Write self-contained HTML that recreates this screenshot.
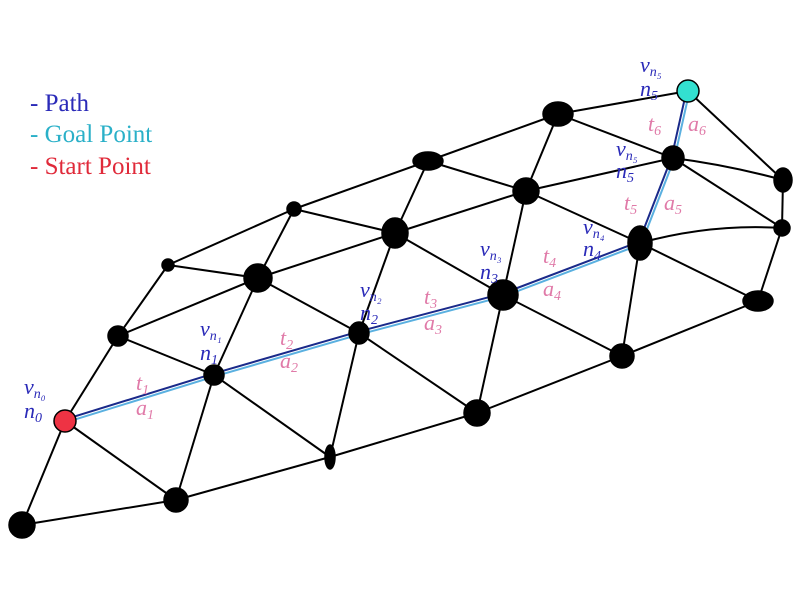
<!DOCTYPE html>
<html><head><meta charset="utf-8"><style>
html,body{margin:0;padding:0;background:#fff;width:800px;height:600px;overflow:hidden}
svg{display:block}
text{font-family:"Liberation Serif",serif}
.lbl{font-style:italic;font-size:22px;fill:#2a2ab8}
.pk{font-style:italic;font-size:22px;fill:#e07aa8}
.sub{font-size:14px}
</style></head><body>
<svg id="chart" width="800" height="600" viewBox="0 0 800 600">
<g>
<text x="30" y="111" font-size="25" fill="#2a2ab8">- Path</text>
<text x="30" y="142" font-size="25" fill="#2ab0c8">- Goal Point</text>
<text x="30" y="174" font-size="25" fill="#e02a3a">- Start Point</text>
</g>
<g id="edges"></g>
<g id="path"></g>
<g id="nodes"></g>
<g>
<text class="lbl" x="24" y="394">v<tspan class="sub" dy="4">n₀</tspan></text>
<text class="lbl" x="24" y="418">n<tspan class="sub" dy="4">0</tspan></text>
<text class="pk" x="136" y="390">t<tspan class="sub" dy="4">1</tspan></text>
<text class="pk" x="136" y="415">a<tspan class="sub" dy="4">1</tspan></text>
<text class="lbl" x="200" y="336">v<tspan class="sub" dy="4">n₁</tspan></text>
<text class="lbl" x="200" y="360">n<tspan class="sub" dy="4">1</tspan></text>
<text class="pk" x="280" y="345">t<tspan class="sub" dy="4">2</tspan></text>
<text class="pk" x="280" y="368">a<tspan class="sub" dy="4">2</tspan></text>
<text class="lbl" x="360" y="297">v<tspan class="sub" dy="4">n₂</tspan></text>
<text class="lbl" x="360" y="320">n<tspan class="sub" dy="4">2</tspan></text>
<text class="pk" x="424" y="304">t<tspan class="sub" dy="4">3</tspan></text>
<text class="pk" x="424" y="330">a<tspan class="sub" dy="4">3</tspan></text>
<text class="lbl" x="480" y="256">v<tspan class="sub" dy="4">n₃</tspan></text>
<text class="lbl" x="480" y="279">n<tspan class="sub" dy="4">3</tspan></text>
<text class="pk" x="543" y="263">t<tspan class="sub" dy="4">4</tspan></text>
<text class="pk" x="543" y="296">a<tspan class="sub" dy="4">4</tspan></text>
<text class="lbl" x="583" y="234">v<tspan class="sub" dy="4">n₄</tspan></text>
<text class="lbl" x="583" y="256">n<tspan class="sub" dy="4">4</tspan></text>
<text class="pk" x="624" y="210">t<tspan class="sub" dy="4">5</tspan></text>
<text class="pk" x="664" y="210">a<tspan class="sub" dy="4">5</tspan></text>
<text class="lbl" x="616" y="156">v<tspan class="sub" dy="4">n₅</tspan></text>
<text class="lbl" x="616" y="178">n<tspan class="sub" dy="4">5</tspan></text>
<text class="pk" x="648" y="131">t<tspan class="sub" dy="4">6</tspan></text>
<text class="pk" x="688" y="131">a<tspan class="sub" dy="4">6</tspan></text>
<text class="lbl" x="640" y="72">v<tspan class="sub" dy="4">n₅</tspan></text>
<text class="lbl" x="640" y="96">n<tspan class="sub" dy="4">5</tspan></text>
</g>
</svg>
<script>
const nodeIds = ["A","B","C","D","E","F","G","H","I","J","K","L","M","N","O","P","Q","R","S","T","U","V","W"];
const nodeX = [65,22,118,168,258,294,214,176,359,330,395,428,558,526,503,640,673,688,783,782,758,622,477];
const nodeY = [421,525,336,265,278,209,375,500,333,457,233,161,114,191,295,243,158,91,180,228,301,356,413];
const nodeRx = [11,13,10,6,14,7,10,12,10,5,13,15,15,13,15,12,11,11,9,8,15,12,13];
const nodeRy = [11,13,10,6,14,7,10,12,11,12,15,9,12,13,15,17,12,11,12,8,10,12,13];
const edgeList = ["B-A","B-H","A-C","A-H","C-D","C-E","C-G","D-E","D-F","E-F","E-K","E-G","E-I","F-L","F-K","G-H","G-J","H-J","I-J","I-K","I-W","J-W","K-L","K-N","K-O","L-M","L-N","M-N","M-Q","M-R","N-Q","N-P","N-O","O-W","O-V","P-V","P-U","Q-T","R-S","S-T","T-U","U-V","V-W"];
const curvedEdges = ["P-T","Q-S"];
const curveBend = [-12,-4];
const pathNodes = ["A","G","I","O","P","Q","R"];
const NS="http://www.w3.org/2000/svg";
const pos = id => { const i=nodeIds.indexOf(id); return [nodeX[i],nodeY[i]]; };
const eg=document.getElementById('edges');
edgeList.forEach(e=>{const [a,b]=e.split('-');const p=pos(a),q=pos(b);
 const l=document.createElementNS(NS,'line');
 l.setAttribute('x1',p[0]);l.setAttribute('y1',p[1]);l.setAttribute('x2',q[0]);l.setAttribute('y2',q[1]);
 l.setAttribute('stroke','#000');l.setAttribute('stroke-width','2');
 
 
 eg.appendChild(l);});
curvedEdges.forEach((e,k)=>{const [a,b]=e.split('-');const p=pos(a),q=pos(b);
 const mx=(p[0]+q[0])/2, my=(p[1]+q[1])/2+curveBend[k];
 const l=document.createElementNS(NS,'path');
 l.setAttribute('d',`M${p[0]},${p[1]} Q${mx},${my} ${q[0]},${q[1]}`);
 l.setAttribute('fill','none');l.setAttribute('stroke','#000');l.setAttribute('stroke-width','2');
 
 
 eg.appendChild(l);});
const pg=document.getElementById('path');
for(let k=0;k<pathNodes.length-1;k++){const p=pos(pathNodes[k]),q=pos(pathNodes[k+1]);
 const dx=q[0]-p[0],dy=q[1]-p[1],L=Math.hypot(dx,dy),nx=-dy/L*1.5,ny=dx/L*1.5;
 [['#1a2a8a',-1],['#5ab0e0',1]].forEach(([c,s])=>{
  const l=document.createElementNS(NS,'line');
  l.setAttribute('x1',p[0]+nx*s);l.setAttribute('y1',p[1]+ny*s);l.setAttribute('x2',q[0]+nx*s);l.setAttribute('y2',q[1]+ny*s);
  l.setAttribute('stroke',c);l.setAttribute('stroke-width','2');
  
  
  pg.appendChild(l);});
}
const ng=document.getElementById('nodes');
nodeIds.forEach((id,i)=>{const c=document.createElementNS(NS,'ellipse');
 c.setAttribute('cx',nodeX[i]);c.setAttribute('cy',nodeY[i]);c.setAttribute('rx',nodeRx[i]);c.setAttribute('ry',nodeRy[i]);
 let f='#000'; if(id==='A')f='#ee3344'; if(id==='R')f='#33e0d0';
 c.setAttribute('fill',f);c.setAttribute('stroke','#000');c.setAttribute('stroke-width','1.5');
 
 
 ng.appendChild(c);});
</script>
</body></html>
